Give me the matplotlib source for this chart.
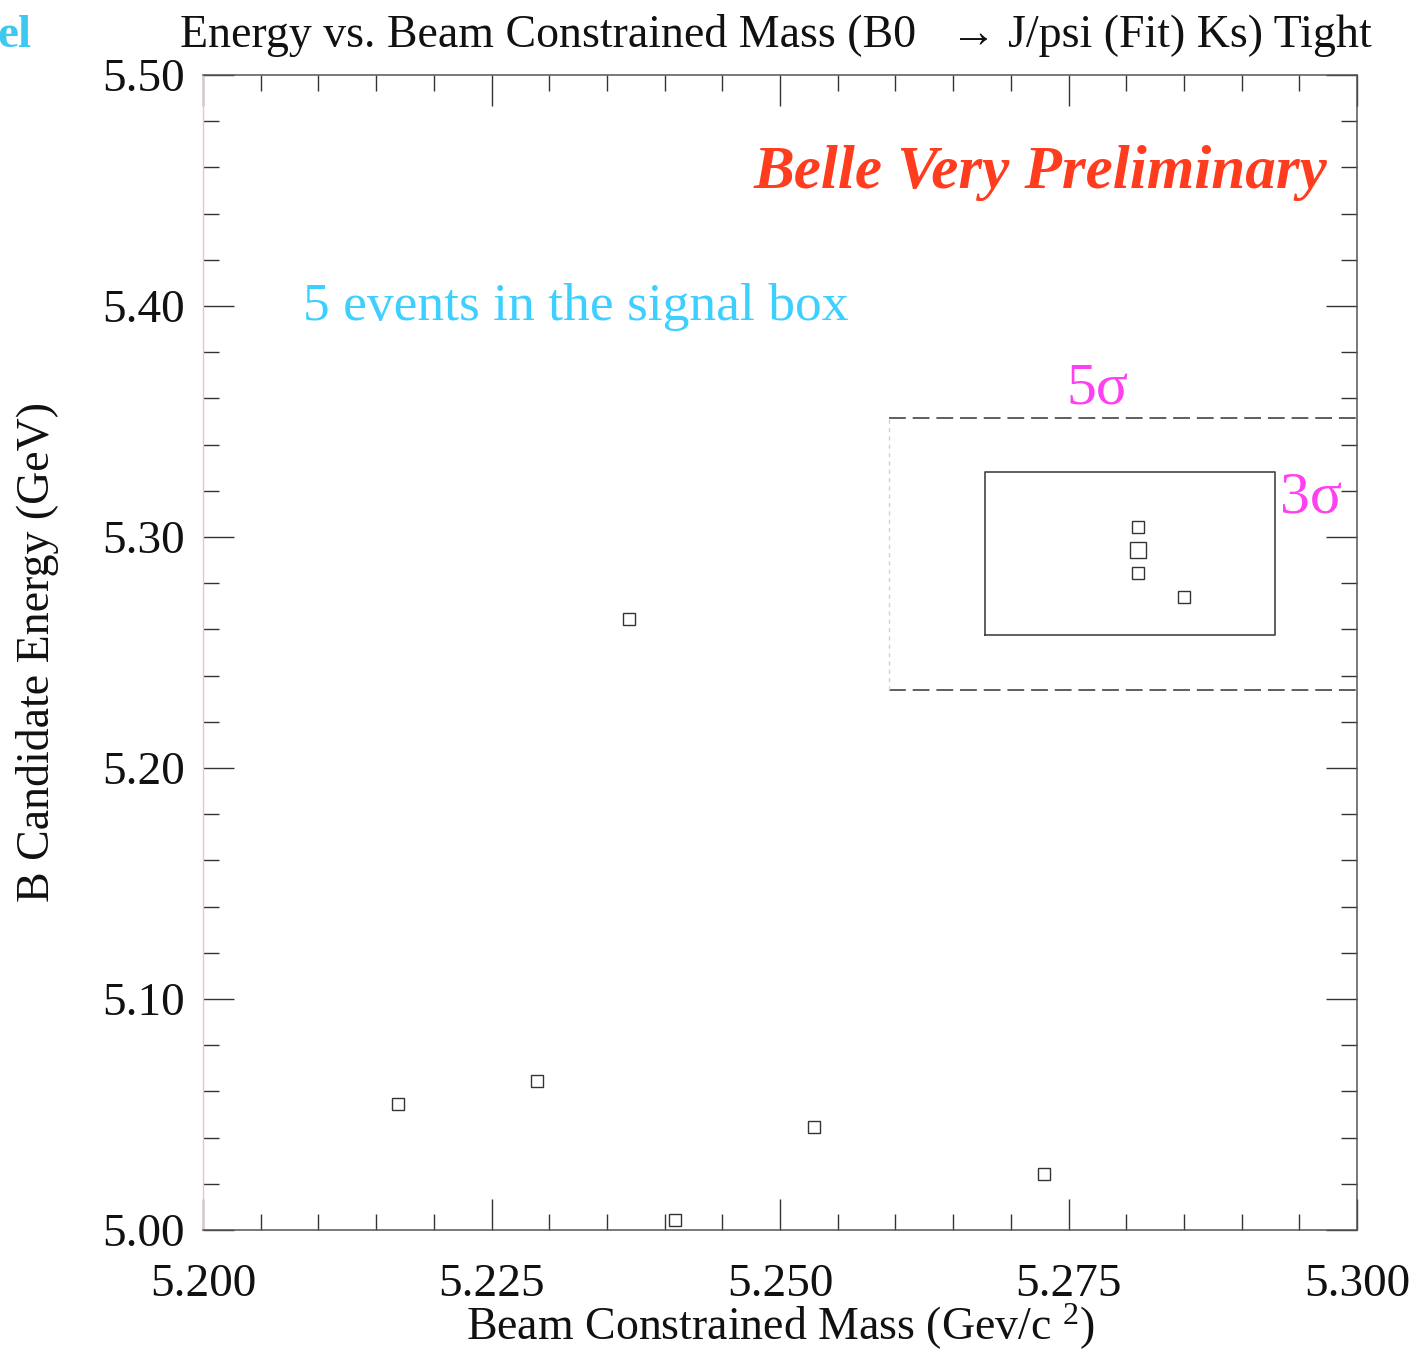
import matplotlib
matplotlib.use("Agg")
import matplotlib.pyplot as plt
from matplotlib.ticker import MultipleLocator, FormatStrFormatter

plt.rcParams['font.family'] = ['Liberation Serif', 'DejaVu Serif']
plt.rcParams['mathtext.fontset'] = 'custom'
plt.rcParams['mathtext.rm'] = 'Liberation Serif'
plt.rcParams['mathtext.it'] = 'Liberation Serif:italic'

# Candidate events: beam-constrained mass (GeV/c^2) and energy (GeV)
mbc = [5.2169, 5.2289, 5.2369, 5.2409, 5.2529, 5.2729, 5.2810, 5.2810, 5.2850]
energy = [5.0545, 5.0645, 5.2645, 5.0043, 5.0446, 5.0242, 5.3043, 5.2844, 5.2740]
# Doubled entry (two overlapping events)
mbc_double = [5.2810]
energy_double = [5.2944]

# Signal boxes: (x0, x1, y0, y1)
box_5sigma = (5.2594, 5.3000, 5.2338, 5.3515)
box_3sigma = (5.2678, 5.2929, 5.2576, 5.3281)

x_range = (5.200, 5.300)
y_range = (5.00, 5.50)

fig = plt.figure(figsize=(14.11, 13.53), dpi=100)
ax = fig.add_axes([0.1439, 0.0909, 0.8179, 0.8537])

ax.plot(mbc, energy, linestyle='none', marker='s', markersize=8.5,
        markerfacecolor='none', markeredgecolor='#333333', markeredgewidth=1.0)
ax.plot(mbc_double, energy_double, linestyle='none', marker='s', markersize=11.5,
        markerfacecolor='none', markeredgecolor='#333333', markeredgewidth=1.0)

# 5 sigma box: dashed top/bottom, faint left edge
x0, x1, y0, y1 = box_5sigma
ax.plot([x0, x1], [y1, y1], color='#333333', lw=1.1, dashes=(11, 4.5))
ax.plot([x0, x1], [y0, y0], color='#333333', lw=1.1, dashes=(11, 4.5))
ax.plot([x0, x0], [y0, y1], color='#e6c8d2', lw=1.0, dashes=(3, 3))

# 3 sigma box: solid
x0, x1, y0, y1 = box_3sigma
ax.plot([x0, x1, x1, x0, x0], [y0, y0, y1, y1, y0], color='#444444', lw=1.2)

ax.set_xlim(*x_range)
ax.set_ylim(*y_range)

ax.xaxis.set_major_locator(MultipleLocator(0.025))
ax.xaxis.set_minor_locator(MultipleLocator(0.005))
ax.yaxis.set_major_locator(MultipleLocator(0.10))
ax.yaxis.set_minor_locator(MultipleLocator(0.02))
ax.xaxis.set_major_formatter(FormatStrFormatter('%.3f'))
ax.yaxis.set_major_formatter(FormatStrFormatter('%.2f'))

ax.tick_params(which='both', direction='in', top=True, right=True,
               color='#333333', labelcolor='#111111', width=1.0)
ax.tick_params(which='major', length=22, labelsize=34)
ax.tick_params(which='minor', length=11.5)
ax.tick_params(axis='x', which='major', pad=24)
ax.tick_params(axis='y', which='major', pad=13)

for side in ['top', 'right', 'bottom']:
    ax.spines[side].set_color('#555555')
    ax.spines[side].set_linewidth(1.1)
ax.spines['left'].set_color('#e8c4cc')
ax.spines['left'].set_linewidth(1.0)

ax.set_xlabel('Beam Constrained Mass (Gev/c $^{2}$)', fontsize=33, color='#111111')
ax.set_ylabel('B Candidate Energy (GeV)', fontsize=33, color='#111111')
ax.xaxis.set_label_coords(0.5, -0.062)
ax.yaxis.set_label_coords(-0.125, 0.5)

ax.text(5.2974, 5.451, 'Belle Very Preliminary', color='#ff3c1e', fontsize=44,
        fontweight='bold', fontstyle='italic', ha='right', va='baseline')
ax.text(5.2087, 5.394, '5 events in the signal box', color='#3dd0ff', fontsize=38.5,
        ha='left', va='baseline')
ax.text(5.2748, 5.3576, '5\u03c3', color='#ff40f0', fontsize=43,
        ha='left', va='baseline')
ax.text(5.2933, 5.3104, '3\u03c3', color='#ff40f0', fontsize=43,
        ha='left', va='baseline')

fig.text(0.1276, 0.9653, 'Energy vs. Beam Constrained Mass (B0   \u2192 J/psi (Fit) Ks) Tight',
         fontsize=33, ha='left', va='baseline', color='#111111')
fig.text(-0.002, 0.9653, 'el', fontsize=34, fontweight='bold', color='#3dc8f0',
         ha='left', va='baseline')

fig.savefig('out.png', dpi=100)
